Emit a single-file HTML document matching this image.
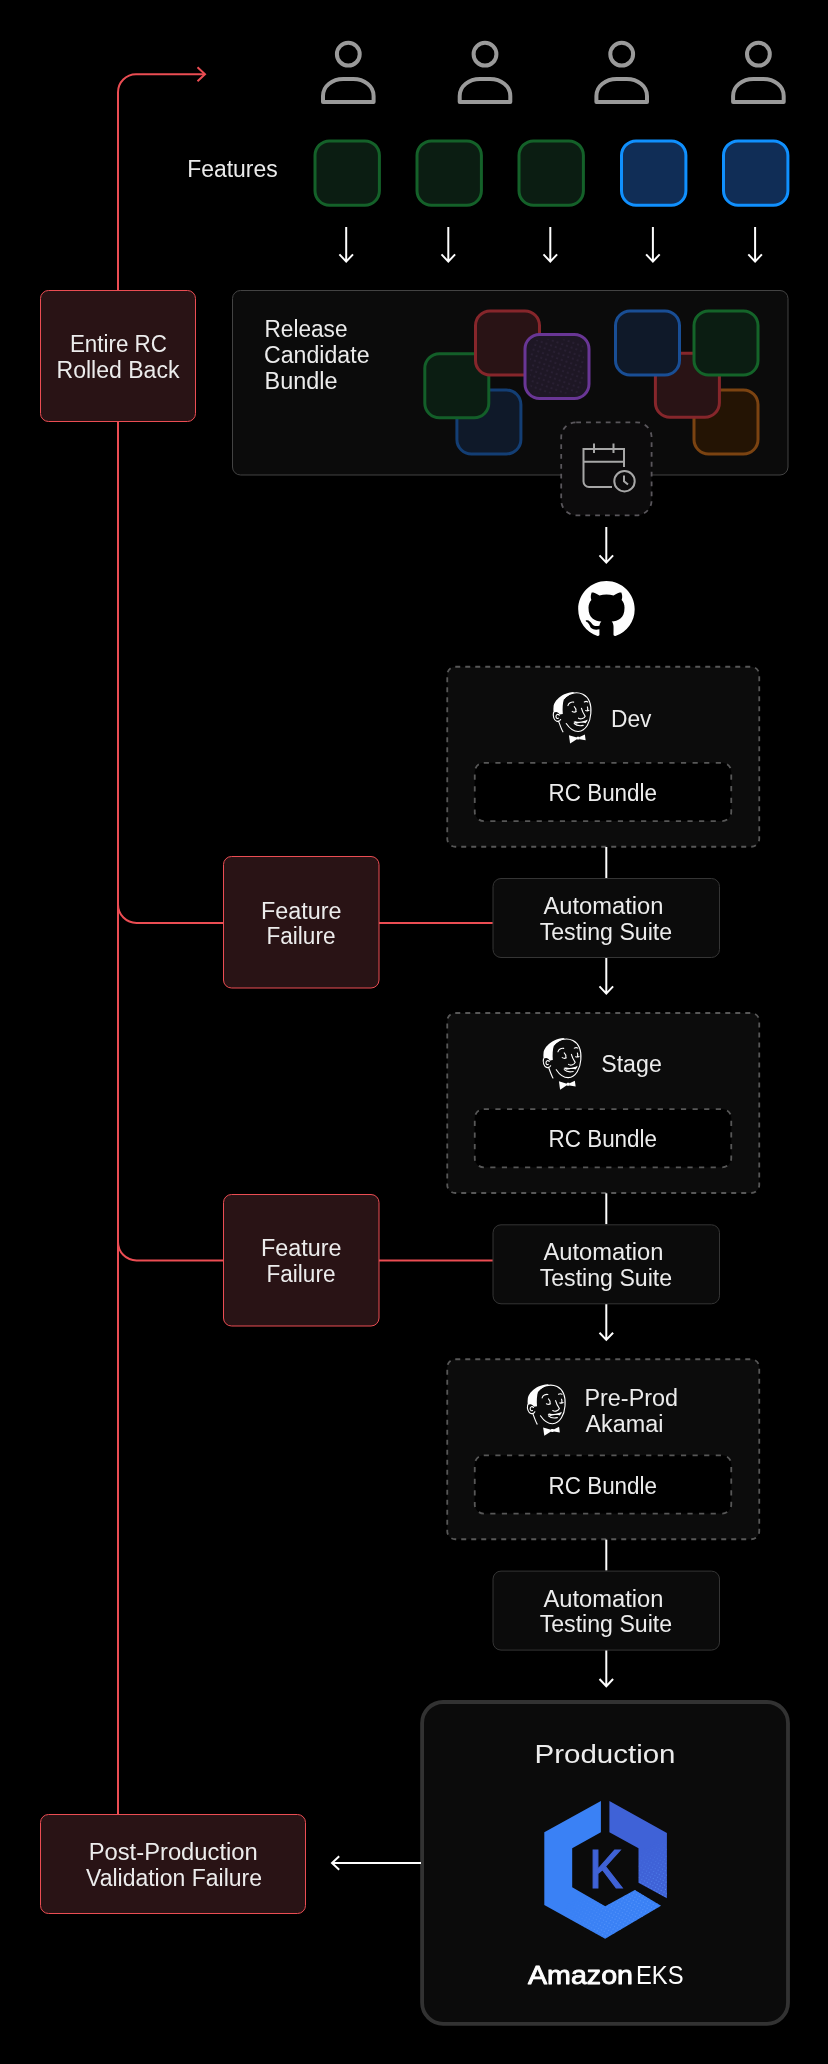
<!DOCTYPE html>
<html lang="en"><head><meta charset="utf-8"><title>Release pipeline</title>
<style>
html,body{margin:0;padding:0;background:#000;}
body{width:828px;height:2064px;overflow:hidden;}
svg{display:block;will-change:transform;opacity:0.9999;font-family:"Liberation Sans",Arial,Helvetica,sans-serif;}
</style></head><body>
<svg width="828" height="2064" viewBox="0 0 828 2064">
<defs>
<pattern id="dots" width="5" height="5" patternUnits="userSpaceOnUse" patternTransform="rotate(20)"><circle cx="1" cy="1" r="0.6" fill="#4a3a5c"/></pattern>
<pattern id="dotsb" width="3.2" height="3.2" patternUnits="userSpaceOnUse" patternTransform="rotate(30)"><circle cx="1" cy="1" r="0.55" fill="#5f9bff"/></pattern>
<linearGradient id="fadeL" x1="0" y1="0" x2="1" y2="1"><stop offset="0.45" stop-color="#fff" stop-opacity="0"/><stop offset="1" stop-color="#fff" stop-opacity="1"/></linearGradient>
<linearGradient id="gL" gradientUnits="userSpaceOnUse" x1="585" y1="1885" x2="640" y2="1935"><stop offset="0" stop-color="#000"/><stop offset="0.6" stop-color="#fff"/></linearGradient>
<linearGradient id="gR" gradientUnits="userSpaceOnUse" x1="640" y1="1850" x2="666" y2="1895"><stop offset="0" stop-color="#000"/><stop offset="0.9" stop-color="#fff"/></linearGradient>
<mask id="mL" maskUnits="userSpaceOnUse" x="540" y="1795" width="130" height="150"><rect x="540" y="1795" width="130" height="150" fill="url(#gL)"/></mask>
<mask id="mR" maskUnits="userSpaceOnUse" x="540" y="1795" width="130" height="150"><rect x="540" y="1795" width="130" height="150" fill="url(#gR)"/></mask>
<g id="person" fill="none" stroke="#9b9b9b" stroke-width="4" stroke-linejoin="round">
<circle cx="0" cy="54.2" r="11.4"/>
<path d="M-25.3 101.9V96C-25.3 86-16 79.1-5 79.1H5C16 79.1 25.3 86 25.3 96V101.9Z"/>
</g>
</defs>
<rect width="828" height="2064" fill="#000"/>

<g fill="none" stroke="#ec4e54" stroke-width="2">
<path d="M118 290V92.2A18 18 0 0 1 136 74.2H204"/>
<path d="M197.5 67.2L205 74.2L197.5 81.2"/>
<path d="M118 421V1814"/>
<path d="M118 904.5A18.5 18.5 0 0 0 136.5 923H223"/>
<path d="M379 923H493"/>
<path d="M118 1242A18.5 18.5 0 0 0 136.5 1260.5H223"/>
<path d="M379 1260.5H493"/>
</g>
<use href="#person" x="348.3" y="0"/>
<use href="#person" x="485" y="0"/>
<use href="#person" x="621.7" y="0"/>
<use href="#person" x="758.4" y="0"/>
<text x="232.4" y="176.7" font-size="23" text-anchor="middle" fill="#ededed" font-weight="400" textLength="90.5" lengthAdjust="spacingAndGlyphs">Features</text>
<rect x="315.0" y="140.9" width="64.4" height="64.4" rx="14.5" fill="#0c1e13" stroke="#15622a" stroke-width="3"/>
<rect x="417.0" y="140.9" width="64.4" height="64.4" rx="14.5" fill="#0c1e13" stroke="#15622a" stroke-width="3"/>
<rect x="519.0" y="140.9" width="64.4" height="64.4" rx="14.5" fill="#0c1e13" stroke="#15622a" stroke-width="3"/>
<rect x="621.5" y="140.9" width="64.4" height="64.4" rx="14.5" fill="#112e57" stroke="#1191ff" stroke-width="3"/>
<rect x="723.5" y="140.9" width="64.4" height="64.4" rx="14.5" fill="#112e57" stroke="#1191ff" stroke-width="3"/>
<path d="M346.2 227V260.6M339.4 254.40000000000003L346.2 261.6L353.0 254.40000000000003" fill="none" stroke="#fff" stroke-width="2"/>
<path d="M448.3 227V260.6M441.5 254.40000000000003L448.3 261.6L455.1 254.40000000000003" fill="none" stroke="#fff" stroke-width="2"/>
<path d="M550.3 227V260.6M543.5 254.40000000000003L550.3 261.6L557.0999999999999 254.40000000000003" fill="none" stroke="#fff" stroke-width="2"/>
<path d="M652.9 227V260.6M646.1 254.40000000000003L652.9 261.6L659.6999999999999 254.40000000000003" fill="none" stroke="#fff" stroke-width="2"/>
<path d="M755.1 227V260.6M748.3000000000001 254.40000000000003L755.1 261.6L761.9 254.40000000000003" fill="none" stroke="#fff" stroke-width="2"/>
<rect x="40.5" y="290.5" width="155" height="131" rx="8" fill="#2a1416" stroke="#ec4e54" stroke-width="1"/>
<text x="118.4" y="351.8" font-size="23" text-anchor="middle" fill="#ededed" font-weight="400" textLength="97" lengthAdjust="spacingAndGlyphs">Entire RC</text>
<text x="118" y="377.5" font-size="23" text-anchor="middle" fill="#ededed" font-weight="400" textLength="123" lengthAdjust="spacingAndGlyphs">Rolled Back</text>
<rect x="232.5" y="290.5" width="555.5" height="184.5" rx="8" fill="#0c0c0c" stroke="#444" stroke-width="1"/>
<text x="264.5" y="337" font-size="23" text-anchor="start" fill="#ededed" font-weight="400" textLength="83" lengthAdjust="spacingAndGlyphs">Release</text>
<text x="264" y="363" font-size="23" text-anchor="start" fill="#ededed" font-weight="400" textLength="105.5" lengthAdjust="spacingAndGlyphs">Candidate</text>
<text x="264.5" y="389" font-size="23" text-anchor="start" fill="#ededed" font-weight="400" textLength="73" lengthAdjust="spacingAndGlyphs">Bundle</text>
<rect x="456.9" y="390.0" width="64" height="64" rx="14.5" fill="#101a2a" stroke="#143f75" stroke-width="3"/>
<rect x="424.8" y="353.7" width="64" height="64" rx="14.5" fill="#0c1e13" stroke="#14602a" stroke-width="3"/>
<rect x="475.5" y="311.0" width="64" height="64" rx="14.5" fill="#2a1416" stroke="#87272c" stroke-width="3"/>
<rect x="525.0" y="334.5" width="64" height="64" rx="14.5" fill="#1f1826" stroke="#6a3796" stroke-width="3"/>
<rect x="530" y="339.5" width="54" height="54" rx="10" fill="url(#dots)"/>
<rect x="694.0" y="390.0" width="64" height="64" rx="14.5" fill="#251505" stroke="#7c4412" stroke-width="3"/>
<rect x="655.4" y="353.3" width="64" height="64" rx="14.5" fill="#2a1416" stroke="#87272c" stroke-width="3"/>
<rect x="615.5" y="311.0" width="64" height="64" rx="14.5" fill="#101a2a" stroke="#1a4f96" stroke-width="3"/>
<rect x="694.0" y="311.0" width="64" height="64" rx="14.5" fill="#0c1e13" stroke="#15652a" stroke-width="3"/>
<rect x="561.2" y="422.3" width="90.4" height="93" rx="15" fill="#0d0c0d" stroke="#5a575c" stroke-width="1.8" stroke-dasharray="4.8 5.05"/>
<g fill="none" stroke="#a8a8a8" stroke-width="2">
<path d="M612 487H589A5.5 5.5 0 0 1 583.5 481.5V449H624V467"/>
<path d="M583.5 461.7H624"/>
<path d="M594 443.5V453M613.5 443.5V453"/>
<circle cx="624.5" cy="481.2" r="10.2"/>
<path d="M624 475.5V481.2L628 484.5"/>
</g>
<path d="M606.3 527V561.6M599.5 555.4L606.3 562.6L613.0999999999999 555.4" fill="none" stroke="#fff" stroke-width="2"/>
<g transform="translate(578.2,580.9) scale(3.53)"><path fill="#fff" d="M8 0C3.58 0 0 3.58 0 8c0 3.54 2.29 6.53 5.47 7.59.4.07.55-.17.55-.38 0-.19-.01-.82-.01-1.49-2.01.37-2.53-.49-2.69-.94-.09-.23-.48-.94-.82-1.13-.28-.15-.68-.52-.01-.53.63-.01 1.08.58 1.23.82.72 1.21 1.87.87 2.33.66.07-.52.28-.87.51-1.07-1.78-.2-3.64-.89-3.64-3.95 0-.87.31-1.59.82-2.15-.08-.2-.36-1.02.08-2.12 0 0 .67-.21 2.2.82.64-.18 1.32-.27 2-.27.68 0 1.36.09 2 .27 1.53-1.04 2.2-.82 2.2-.82.44 1.1.16 1.92.08 2.12.51.56.82 1.27.82 2.15 0 3.07-1.87 3.75-3.65 3.95.29.25.54.73.54 1.48 0 1.07-.01 1.93-.01 2.2 0 .21.15.46.55.38A8.013 8.013 0 0016 8c0-4.42-3.58-8-8-8z"/></g>
<symbol id="jk" viewBox="0 0 828 979" overflow="visible">
<g fill="none" stroke="#fff" stroke-width="17" stroke-linecap="round" stroke-linejoin="round">
<path d="M285 205C340 130 470 90 570 140C660 185 700 300 690 430C680 560 620 690 500 700C420 700 360 640 320 580"/>
<path d="M205 545C225 600 245 660 270 705"/>
<path d="M128 415C115 470 135 530 175 545C200 552 225 540 235 520"/>
<path d="M215 455C195 430 165 445 165 475C165 500 185 510 200 500"/>
<path d="M345 310C355 275 395 250 432 258"/>
<path d="M440 325C460 345 470 370 465 390M410 398C430 410 455 410 472 400"/>
<path d="M592 255C610 245 630 245 645 255"/>
<path d="M638 330C645 345 645 365 640 380M612 385C630 392 648 390 662 380"/>
<path d="M548 350C560 400 585 440 605 470C595 500 540 525 505 500"/>
<path d="M440 580C470 610 520 620 575 608"/>
</g>
<path fill="#fff" d="M130 310C150 240 210 180 290 140C340 115 400 100 450 105C390 130 320 170 285 215C265 270 262 360 268 435C250 440 235 440 222 445C200 400 160 395 128 420C125 380 125 345 130 310Z"/>
<path fill="#fff" d="M428 556C440 546 455 543 470 548C530 560 590 548 640 520C640 540 628 560 610 575C570 562 510 572 475 582C455 576 440 568 428 556Z"/>
<path fill="#fff" d="M360 755L480 790L485 812L378 882Z"/>
<path fill="#fff" d="M520 785L600 745L612 832L522 816Z"/>
<rect x="476" y="778" width="48" height="44" rx="12" fill="#fff"/>
</symbol>
<rect x="223.5" y="856.5" width="155.5" height="131.5" rx="8" fill="#2a1416" stroke="#ec4e54" stroke-width="1"/>
<text x="301.2" y="918.5" font-size="23" text-anchor="middle" fill="#ededed" font-weight="400" textLength="80.5" lengthAdjust="spacingAndGlyphs">Feature</text>
<text x="301" y="944.0" font-size="23" text-anchor="middle" fill="#ededed" font-weight="400" textLength="69" lengthAdjust="spacingAndGlyphs">Failure</text>
<rect x="223.5" y="1194.5" width="155.5" height="131.5" rx="8" fill="#2a1416" stroke="#ec4e54" stroke-width="1"/>
<text x="301.2" y="1256" font-size="23" text-anchor="middle" fill="#ededed" font-weight="400" textLength="80.5" lengthAdjust="spacingAndGlyphs">Feature</text>
<text x="301" y="1281.5" font-size="23" text-anchor="middle" fill="#ededed" font-weight="400" textLength="69" lengthAdjust="spacingAndGlyphs">Failure</text>
<rect x="447.25" y="666.75" width="312" height="180" rx="8" fill="#0d0d0d" stroke="#585858" stroke-width="1.8" stroke-dasharray="5 5"/>
<rect x="474.75" y="762.85" width="256.5" height="58.2" rx="9" fill="#000" stroke="#585858" stroke-width="1.8" stroke-dasharray="5.2 6.4"/>
<text x="602.8" y="801" font-size="23" text-anchor="middle" fill="#ededed" font-weight="400" textLength="108.5" lengthAdjust="spacingAndGlyphs">RC Bundle</text>
<use href="#jk" x="545" y="685" width="55" height="65"/>
<text x="611" y="726.5" font-size="23" text-anchor="start" fill="#ededed" font-weight="400" textLength="40.5" lengthAdjust="spacingAndGlyphs">Dev</text>
<rect x="447.25" y="1013.0" width="312" height="180" rx="8" fill="#0d0d0d" stroke="#585858" stroke-width="1.8" stroke-dasharray="5 5"/>
<rect x="474.75" y="1109.1" width="256.5" height="58.2" rx="9" fill="#000" stroke="#585858" stroke-width="1.8" stroke-dasharray="5.2 6.4"/>
<text x="602.8" y="1147.25" font-size="23" text-anchor="middle" fill="#ededed" font-weight="400" textLength="108.5" lengthAdjust="spacingAndGlyphs">RC Bundle</text>
<use href="#jk" x="535" y="1031.2" width="55" height="65"/>
<text x="601.2" y="1072.4" font-size="23" text-anchor="start" fill="#ededed" font-weight="400" textLength="60.6" lengthAdjust="spacingAndGlyphs">Stage</text>
<rect x="447.25" y="1359.25" width="312" height="180" rx="8" fill="#0d0d0d" stroke="#585858" stroke-width="1.8" stroke-dasharray="5 5"/>
<rect x="474.75" y="1455.35" width="256.5" height="58.2" rx="9" fill="#000" stroke="#585858" stroke-width="1.8" stroke-dasharray="5.2 6.4"/>
<text x="602.8" y="1493.5" font-size="23" text-anchor="middle" fill="#ededed" font-weight="400" textLength="108.5" lengthAdjust="spacingAndGlyphs">RC Bundle</text>
<use href="#jk" x="519.2" y="1377.3" width="55" height="65"/>
<text x="584.5" y="1406.2" font-size="23" text-anchor="start" fill="#ededed" font-weight="400" textLength="93.5" lengthAdjust="spacingAndGlyphs">Pre-Prod</text>
<text x="585.5" y="1432" font-size="23" text-anchor="start" fill="#ededed" font-weight="400" textLength="78" lengthAdjust="spacingAndGlyphs">Akamai</text>
<path d="M606.3 847V878" stroke="#fff" stroke-width="2"/>
<rect x="493" y="878.5" width="226.5" height="79" rx="8" fill="#0c0c0c" stroke="#363636" stroke-width="1"/>
<text x="603.5" y="914" font-size="23" text-anchor="middle" fill="#ededed" font-weight="400" textLength="120" lengthAdjust="spacingAndGlyphs">Automation</text>
<text x="605.9" y="939.5" font-size="23" text-anchor="middle" fill="#ededed" font-weight="400" textLength="132.5" lengthAdjust="spacingAndGlyphs">Testing Suite</text>
<path d="M606.3 958V992.6M599.5 986.4L606.3 993.6L613.0999999999999 986.4" fill="none" stroke="#fff" stroke-width="2"/>
<path d="M606.3 1193.3V1224.3" stroke="#fff" stroke-width="2"/>
<rect x="493" y="1224.8" width="226.5" height="79" rx="8" fill="#0c0c0c" stroke="#363636" stroke-width="1"/>
<text x="603.5" y="1260.3" font-size="23" text-anchor="middle" fill="#ededed" font-weight="400" textLength="120" lengthAdjust="spacingAndGlyphs">Automation</text>
<text x="605.9" y="1285.8" font-size="23" text-anchor="middle" fill="#ededed" font-weight="400" textLength="132.5" lengthAdjust="spacingAndGlyphs">Testing Suite</text>
<path d="M606.3 1304.3V1338.8999999999999M599.5 1332.6999999999998L606.3 1339.8999999999999L613.0999999999999 1332.6999999999998" fill="none" stroke="#fff" stroke-width="2"/>
<path d="M606.3 1539.6V1570.6" stroke="#fff" stroke-width="2"/>
<rect x="493" y="1571.1" width="226.5" height="79" rx="8" fill="#0c0c0c" stroke="#363636" stroke-width="1"/>
<text x="603.5" y="1606.6" font-size="23" text-anchor="middle" fill="#ededed" font-weight="400" textLength="120" lengthAdjust="spacingAndGlyphs">Automation</text>
<text x="605.9" y="1632.1" font-size="23" text-anchor="middle" fill="#ededed" font-weight="400" textLength="132.5" lengthAdjust="spacingAndGlyphs">Testing Suite</text>
<path d="M606.3 1650.6V1685.1999999999998M599.5 1678.9999999999998L606.3 1686.1999999999998L613.0999999999999 1678.9999999999998" fill="none" stroke="#fff" stroke-width="2"/>
<rect x="422.1" y="1702" width="365.9" height="321.8" rx="21" fill="#0c0c0c" stroke="#333" stroke-width="3.8"/>
<text x="605" y="1763.3" font-size="26.7" text-anchor="middle" fill="#ededed" font-weight="400" textLength="141" lengthAdjust="spacingAndGlyphs">Production</text>
<path fill="#3b82f6" d="M600.9 1801V1832.3L572.2 1848.3V1887.2L605.2 1906.3L634.8 1890.1L661 1905.8L605.2 1938.8L544.3 1905V1832.3Z"/>
<path fill="#4063d8" d="M609.4 1801L666.9 1833.1V1898.2L638.5 1882.7V1848.3L609.4 1832.3Z"/>
<path fill="url(#dotsb)" mask="url(#mL)" d="M600.9 1801V1832.3L572.2 1848.3V1887.2L605.2 1906.3L634.8 1890.1L661 1905.8L605.2 1938.8L544.3 1905V1832.3Z"/>
<path fill="url(#dotsb)" mask="url(#mR)" d="M609.4 1801L666.9 1833.1V1898.2L638.5 1882.7V1848.3L609.4 1832.3Z"/>
<text x="589" y="1887.5" font-size="55.5" text-anchor="start" fill="#4063d8" font-weight="400" textLength="33.8" lengthAdjust="spacingAndGlyphs" stroke="#4063d8" stroke-width="1.2">K</text>
<text x="528" y="1984" font-size="26.7" text-anchor="start" fill="#fff" font-weight="400" textLength="105" lengthAdjust="spacingAndGlyphs" stroke="#fff" stroke-width="0.9" stroke-linejoin="round">Amazon</text>
<text x="636" y="1984" font-size="26.7" text-anchor="start" fill="#fff" font-weight="400" textLength="47.5" lengthAdjust="spacingAndGlyphs">EKS</text>
<rect x="40.5" y="1814.5" width="265" height="99" rx="8" fill="#2a1416" stroke="#ec4e54" stroke-width="1"/>
<text x="173.2" y="1860" font-size="23" text-anchor="middle" fill="#ededed" font-weight="400" textLength="169" lengthAdjust="spacingAndGlyphs">Post-Production</text>
<text x="174" y="1885.5" font-size="23" text-anchor="middle" fill="#ededed" font-weight="400" textLength="176" lengthAdjust="spacingAndGlyphs">Validation Failure</text>
<path d="M421 1863H333M339.2 1856.2L332 1863L339.2 1869.8" fill="none" stroke="#fff" stroke-width="2"/>
</svg></body></html>
